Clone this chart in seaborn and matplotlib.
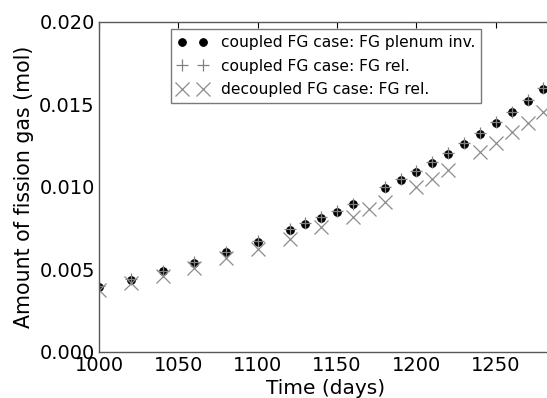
import numpy as np
import pandas as pd
import seaborn as sns
import matplotlib
matplotlib.use('Agg')
import matplotlib.pyplot as plt

# coupled FG case: FG plenum inventory (dots) and FG release (plus)
days_coupled = [1000, 1020, 1040, 1060, 1080, 1100, 1120, 1130, 1140, 1150,
                1160, 1180, 1190, 1200, 1210, 1220, 1230, 1240, 1250, 1260,
                1270, 1280]
fg_plenum_coupled = [0.00396, 0.00436, 0.00488, 0.00541, 0.00603, 0.00667,
                     0.00739, 0.00776, 0.00811, 0.00848, 0.00895, 0.00994,
                     0.01042, 0.01093, 0.01145, 0.01202, 0.01260, 0.01323,
                     0.01388, 0.01452, 0.01521, 0.01594]
fg_rel_coupled = [0.00400, 0.00440, 0.00492, 0.00545, 0.00607, 0.00671,
                  0.00743, 0.00780, 0.00815, 0.00852, 0.00899, 0.00998,
                  0.01046, 0.01097, 0.01149, 0.01206, 0.01264, 0.01327,
                  0.01392, 0.01456, 0.01525, 0.01598]

# decoupled FG case: FG release (x)
days_decoupled = [1000, 1020, 1040, 1060, 1080, 1100, 1120, 1140, 1160, 1170,
                  1180, 1200, 1210, 1220, 1240, 1250, 1260, 1270, 1280]
fg_rel_decoupled = [0.00376, 0.00416, 0.00460, 0.00510, 0.00568, 0.00622,
                    0.00683, 0.00755, 0.00820, 0.00865, 0.00911, 0.01002,
                    0.01050, 0.01103, 0.01214, 0.01268, 0.01330, 0.01390,
                    0.01452]

sns.set_style('white')
plt.rcParams['font.family'] = ['DejaVu Sans']
plt.rcParams['text.color'] = 'black'
plt.rcParams['axes.labelcolor'] = 'black'
plt.rcParams['xtick.color'] = 'black'
plt.rcParams['ytick.color'] = 'black'

fig = plt.figure(figsize=(5.47, 3.98), dpi=100)
ax = fig.add_axes([0.181, 0.116, 0.830, 0.829])

sns.lineplot(x=days_coupled, y=fg_plenum_coupled, ax=ax, linestyle='',
             marker='o', markersize=5.5, color='black', markeredgecolor='black',
             label='coupled FG case: FG plenum inv.')
sns.lineplot(x=days_coupled, y=fg_rel_coupled, ax=ax, linestyle='',
             marker='+', markersize=9, color='0.5', markeredgecolor='0.5',
             markeredgewidth=0.9, label='coupled FG case: FG rel.')
sns.lineplot(x=days_decoupled, y=fg_rel_decoupled, ax=ax, linestyle='',
             marker='x', markersize=9.5, color='0.55', markeredgecolor='0.55',
             markeredgewidth=0.9, label='decoupled FG case: FG rel.')

ax.set_xlim(1000, 1286)
ax.set_ylim(0.0, 0.020)
ax.set_xticks([1000, 1050, 1100, 1150, 1200, 1250])
ax.set_yticks([0.000, 0.005, 0.010, 0.015, 0.020])
ax.set_yticklabels(['0.000', '0.005', '0.010', '0.015', '0.020'])
ax.tick_params(direction='in', length=4, width=0.8, labelsize=14, pad=3,
               top=True, right=True)
for sp in ax.spines.values():
    sp.set_color('0.35')
    sp.set_linewidth(1.0)

ax.set_xlabel('Time (days)', fontsize=14.5, labelpad=3)
ax.set_ylabel('Amount of fission gas (mol)', fontsize=14.8, labelpad=4)

leg = ax.legend(loc='upper left', bbox_to_anchor=(0.158, 0.979), numpoints=2,
                fontsize=11.2, fancybox=False, frameon=True,
                handlelength=2.0, handletextpad=0.8, borderpad=0.4,
                labelspacing=0.55, borderaxespad=0)
leg.get_frame().set_edgecolor('0.35')
leg.get_frame().set_linewidth(1.0)

fig.savefig('out.png', dpi=100)
